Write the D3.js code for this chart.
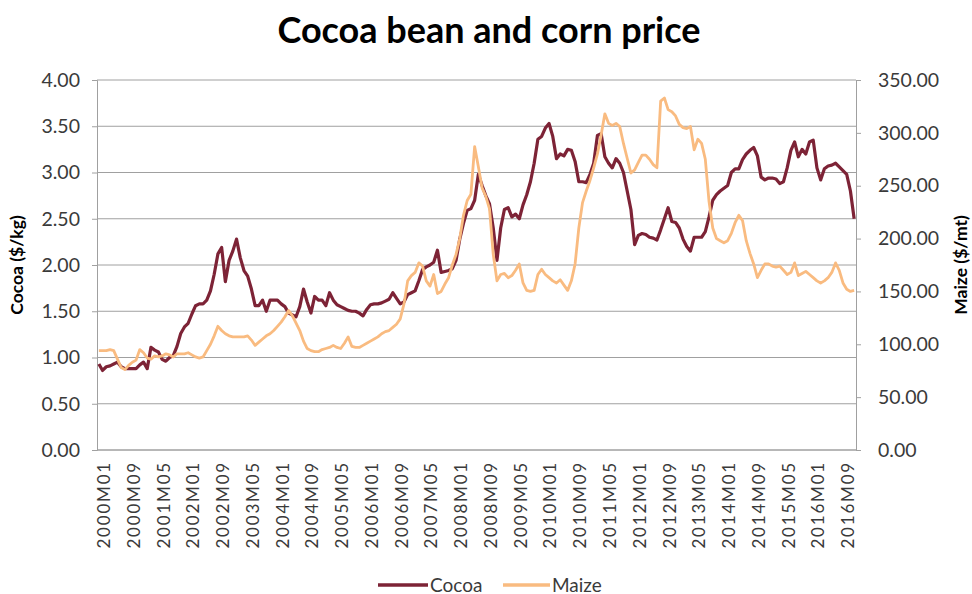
<!DOCTYPE html>
<html>
<head>
<meta charset="utf-8">
<script src="https://cdn.jsdelivr.net/npm/d3@7"></script>
<style>
  html, body { margin: 0; padding: 0; background: #fff; }
  svg { display: block; }
  text { font-family: Lato, "Open Sans", sans-serif; }
</style>
</head>
<body>
<svg id="chart" width="972" height="594"></svg>
<script>
// ---------- data ----------
const years = d3.range(2000, 2017);
const monthCodes = ["01","02","03","04","05","06","07","08","09","10","11","12"];
const categories = [];
years.forEach(y => monthCodes.forEach(m => categories.push(y + "M" + m)));

const cocoa = [
0.93,0.86,0.90,0.91,0.93,0.95,0.90,0.88,0.88,0.88,0.88,0.92,
0.95,0.88,1.11,1.08,1.06,0.98,0.96,1.00,1.02,1.12,1.26,1.33,
1.37,1.47,1.56,1.58,1.58,1.62,1.72,1.90,2.12,2.19,1.82,2.05,
2.15,2.28,2.08,1.94,1.88,1.74,1.56,1.56,1.62,1.50,1.62,1.62,
1.62,1.58,1.55,1.48,1.46,1.44,1.55,1.74,1.60,1.48,1.66,1.62,
1.62,1.56,1.70,1.62,1.57,1.55,1.53,1.51,1.50,1.50,1.48,1.45,
1.52,1.57,1.58,1.58,1.59,1.61,1.63,1.70,1.64,1.58,1.60,1.68,
1.70,1.72,1.83,1.95,1.98,2.00,2.03,2.16,1.92,1.93,1.94,1.96,
2.05,2.28,2.45,2.59,2.61,2.70,2.98,2.86,2.75,2.66,2.40,2.05,
2.40,2.60,2.62,2.52,2.55,2.50,2.65,2.76,2.90,3.10,3.36,3.39,
3.48,3.53,3.39,3.15,3.20,3.18,3.25,3.24,3.12,2.90,2.90,2.89,
2.98,3.10,3.40,3.42,3.17,3.10,3.05,3.15,3.10,3.00,2.80,2.60,
2.22,2.32,2.34,2.33,2.30,2.29,2.27,2.38,2.50,2.62,2.47,2.46,
2.40,2.28,2.20,2.15,2.30,2.30,2.30,2.36,2.52,2.70,2.76,2.80,
2.83,2.86,3.00,3.04,3.04,3.14,3.20,3.24,3.27,3.18,2.95,2.92,
2.94,2.94,2.93,2.88,2.90,3.05,3.24,3.33,3.17,3.25,3.20,3.33,
3.35,3.05,2.92,3.04,3.07,3.08,3.10,3.06,3.02,2.98,2.80,2.50];

const maize = [
94,94,94,95,94,86,78,76,80,83,85,95,
92,87,86,89,88,89,91,90,88,91,91,91,
92,90,88,87,88,94,100,108,117,113,110,108,
107,107,107,107,108,104,99,102,105,108,110,113,
117,121,126,132,127,120,113,103,96,94,93,93,
95,96,97,99,97,96,101,107,98,97,97,99,
101,103,105,107,110,112,113,116,119,124,138,160,
165,168,177,174,160,155,166,148,150,157,163,175,
185,200,222,236,242,287,268,248,240,228,185,160,
166,167,163,165,170,176,158,151,150,151,166,171,
166,163,160,158,161,156,151,160,176,210,234,245,
255,267,280,298,318,309,307,309,306,290,276,262,
265,272,279,279,275,270,267,330,333,322,320,316,
308,305,304,306,284,294,290,275,235,210,200,198,
196,198,205,215,222,217,198,186,176,163,170,176,
176,174,173,174,170,166,168,177,165,167,169,166,
163,160,158,160,163,168,177,170,158,152,150,151];

const cocoaTicks = [0, 0.5, 1, 1.5, 2, 2.5, 3, 3.5, 4];
const maizeTicks = [0, 50, 100, 150, 200, 250, 300, 350];
const labelEvery = 8;

// ---------- layout ----------
const svg = d3.select("#chart");
const L = 97, R = 856, T = 80, B = 450;
const gridColor = "#a0a0a0";
const textColor = "#3a3a3a";
const cocoaColor = "#7d2336";
const maizeColor = "#f9bb80";

const x = d3.scalePoint().domain(categories).range([L, R]).padding(0.5);
const yL = d3.scaleLinear().domain([0, 4]).range([B, T]);
const yR = d3.scaleLinear().domain([0, 350]).range([B, T]);

// title
svg.append("text")
  .attr("x", 489).attr("y", 43)
  .attr("text-anchor", "middle")
  .attr("font-size", 36).attr("font-weight", "bold").attr("fill", "#000")
  .text("Cocoa bean and corn price");

// gridlines
svg.append("g").selectAll("line").data(cocoaTicks).join("line")
  .attr("x1", L).attr("x2", R)
  .attr("y1", d => yL(d)).attr("y2", d => yL(d))
  .attr("stroke", gridColor).attr("stroke-width", 1);

// left axis
const leftAxis = svg.append("g").attr("transform", `translate(${L},0)`)
  .call(d3.axisLeft(yL).tickValues(cocoaTicks).tickFormat(d3.format(".2f")).tickSize(5).tickPadding(12));
leftAxis.select(".domain").attr("stroke", gridColor);
leftAxis.selectAll(".tick line").attr("stroke", gridColor);
leftAxis.selectAll(".tick text").attr("font-size", 19.5).attr("fill", textColor)
  .attr("font-family", "Lato, sans-serif");

// right axis
const rightAxis = svg.append("g").attr("transform", `translate(${R},0)`)
  .call(d3.axisRight(yR).tickValues(maizeTicks).tickFormat(d3.format(".2f")).tickSize(5).tickPadding(17));
rightAxis.select(".domain").attr("stroke", gridColor);
rightAxis.selectAll(".tick line").attr("stroke", gridColor);
rightAxis.selectAll(".tick text").attr("font-size", 19.5).attr("fill", textColor)
  .attr("font-family", "Lato, sans-serif");

// bottom axis line
svg.append("line").attr("x1", L).attr("x2", R).attr("y1", B).attr("y2", B)
  .attr("stroke", gridColor);

// x labels
const shown = categories.filter((c, i) => i % labelEvery === 0);
svg.append("g").selectAll("text").data(shown).join("text")
  .attr("transform", d => `translate(${x(d) + 5},${B + 11}) rotate(-90)`)
  .attr("text-anchor", "end")
  .attr("dy", "0.36em")
  .attr("font-size", 17).attr("letter-spacing", 1.8).attr("fill", textColor)
  .text(d => d);

// axis titles
svg.append("text")
  .attr("transform", `translate(23,${(T + B) / 2}) rotate(-90)`)
  .attr("text-anchor", "middle")
  .attr("font-size", 17.5).attr("font-weight", "bold").attr("fill", "#000")
  .text("Cocoa ($/kg)");
svg.append("text")
  .attr("transform", `translate(967,${(T + B) / 2}) rotate(-90)`)
  .attr("text-anchor", "middle")
  .attr("font-size", 17.5).attr("font-weight", "bold").attr("fill", "#000")
  .text("Maize ($/mt)");

// lines
const cocoaLine = d3.line().x((d, i) => x(categories[i])).y(d => yL(d));
const maizeLine = d3.line().x((d, i) => x(categories[i])).y(d => yR(d));

svg.append("path").datum(cocoa)
  .attr("d", cocoaLine).attr("fill", "none")
  .attr("stroke", cocoaColor).attr("stroke-width", 3.2).attr("stroke-linejoin", "round");
svg.append("path").datum(maize)
  .attr("d", maizeLine).attr("fill", "none")
  .attr("stroke", maizeColor).attr("stroke-width", 2.8).attr("stroke-linejoin", "round");

// legend
const legend = svg.append("g");
const legendItems = [
  { name: "Cocoa", color: cocoaColor, x1: 378, x2: 428, tx: 430 },
  { name: "Maize", color: maizeColor, x1: 503, x2: 550, tx: 552 }
];
legendItems.forEach(it => {
  legend.append("line").attr("x1", it.x1).attr("x2", it.x2).attr("y1", 585).attr("y2", 585)
    .attr("stroke", it.color).attr("stroke-width", 3.5);
  legend.append("text").attr("x", it.tx).attr("y", 591.5)
    .attr("font-size", 19).attr("fill", textColor).text(it.name);
});
</script>
</body>
</html>
